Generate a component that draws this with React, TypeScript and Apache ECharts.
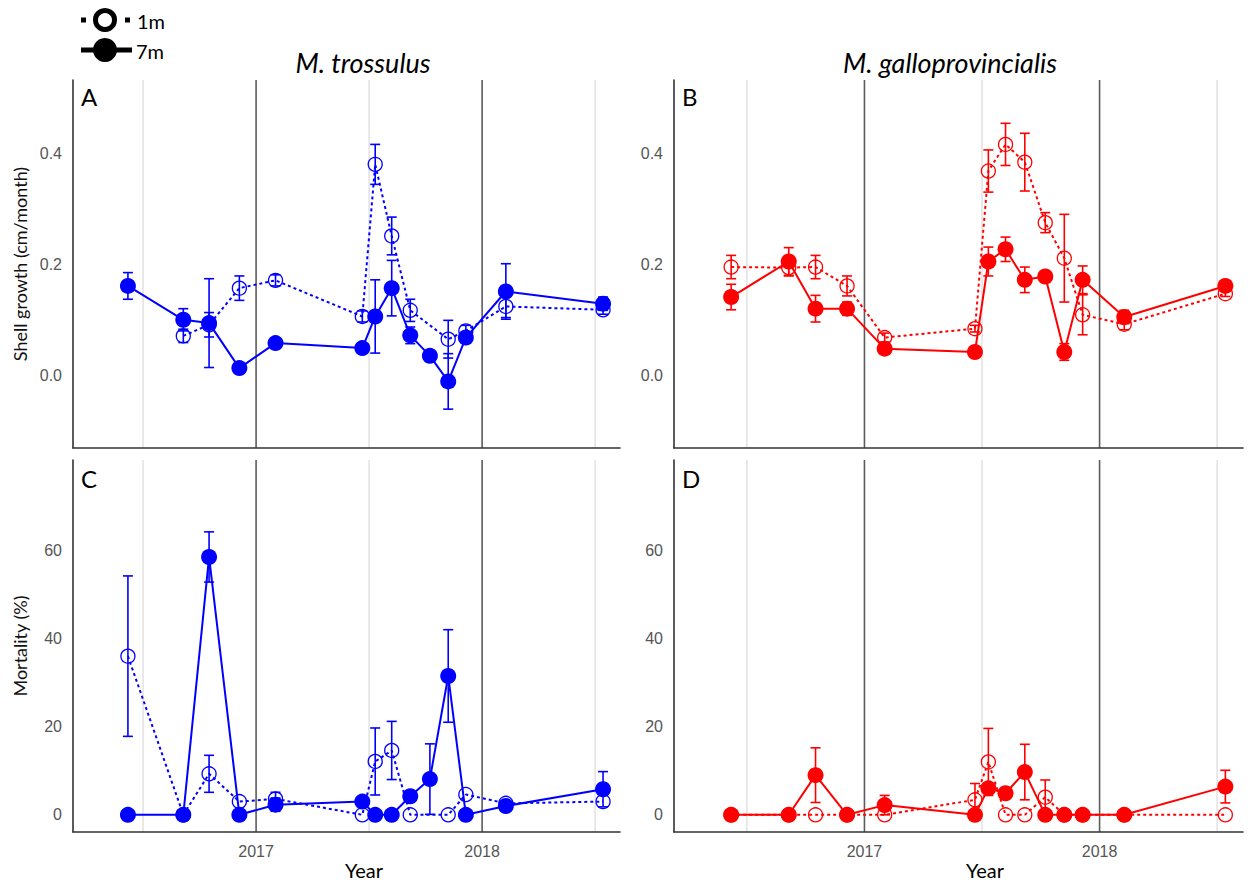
import React, { useEffect, useRef } from "react";
import * as echarts from "echarts";

// Sampling dates (decimal years)
const dates = [2016.433, 2016.678, 2016.792, 2016.926, 2017.086, 2017.47, 2017.527, 2017.6, 2017.682, 2017.769, 2017.85, 2017.928, 2018.105, 2018.535];

// Tick labels
const xTickValues = [2017, 2018];
const growthTicks = [0, 0.2, 0.4];
const mortalityTicks = [0, 20, 40, 60];

// M. trossulus shell growth (cm/month)
const trosGrowth1m = [null, 0.072, 0.092, 0.158, 0.172, 0.107, 0.381, 0.252, 0.118, null, 0.066, 0.081, 0.125, 0.119];
const trosGrowth1mSE = [null, 0.012, 0.022, 0.022, 0.01, 0.01, 0.036, 0.034, 0.02, null, 0.034, 0.01, 0.02, 0.008];
const trosGrowth7m = [0.162, 0.101, 0.095, 0.014, 0.059, 0.05, 0.107, 0.158, 0.073, 0.036, -0.01, 0.069, 0.152, 0.13];
const trosGrowth7mSE = [0.024, 0.02, 0.08, 0.004, 0.004, 0.004, 0.066, 0.05, 0.015, 0.01, 0.05, 0.01, 0.05, 0.012];

// M. galloprovincialis shell growth (cm/month)
const gallGrowth1m = [0.196, 0.195, 0.196, 0.162, 0.069, 0.085, 0.369, 0.417, 0.385, 0.276, 0.212, 0.11, 0.093, 0.148];
const gallGrowth1mSE = [0.021, 0.015, 0.021, 0.018, 0.008, 0.006, 0.038, 0.038, 0.052, 0.018, 0.079, 0.036, 0.01, 0.005];
const gallGrowth7m = [0.142, 0.206, 0.121, 0.121, 0.049, 0.043, 0.206, 0.228, 0.173, 0.179, 0.043, 0.173, 0.106, 0.162];
const gallGrowth7mSE = [0.023, 0.025, 0.024, 0.012, 0.008, 0.004, 0.026, 0.022, 0.023, 0.005, 0.015, 0.025, 0.012, 0.008];

// M. trossulus mortality (%)
const trosMort1m = [36, 0, 9.3, 3.0, 3.6, 0, 12.1, 14.6, 0, null, 0, 4.6, 2.6, 3.0];
const trosMort1mSE = [18.2, 0, 4.2, 0, 1.5, 0, 7.6, 6.6, 0, null, 0, 0, 0, 0];
const trosMort7m = [0, 0, 58.5, 0, 2.3, 3.0, 0, 0, 4.2, 8.1, 31.5, 0, 2.0, 5.8];
const trosMort7mSE = [0, 0, 5.7, 0, 1.5, 0, 0, 0, 0, 8, 10.5, 0, 0, 4];

// M. galloprovincialis mortality (%)
const gallMort1m = [0, 0, 0, 0, 0, 3.4, 12.0, 0, 0, 4.0, 0, 0, 0, 0];
const gallMort1mSE = [0, 0, 0, 0, 0, 3.7, 7.6, 0, 0, 3.9, 0, 0, 0, 0];
const gallMort7m = [0, 0, 9.0, 0, 2.2, 0, 6.0, 4.9, 9.7, 0, 0, 0, 0, 6.4];
const gallMort7mSE = [0, 0, 6.2, 0, 2.2, 0, 0, 0, 6.3, 0, 0, 0, 0, 3.7];

const BLUE = "#0000ff";
const RED = "#ff0000";
const TICK_FONT = "'Liberation Sans', Arial, sans-serif";
const TITLE_FONT = "Lato, 'Open Sans', sans-serif";

const toPairs = (vals: (number | null)[]) =>
  vals.map((v, i) => (v == null ? null : [dates[i], v])).filter((p) => p !== null);

const toErr = (vals: (number | null)[], se: (number | null)[]) =>
  vals
    .map((v, i) => (v == null || se[i] == null || se[i] === 0 ? null : [dates[i], v - (se[i] as number), v + (se[i] as number)]))
    .filter((p) => p !== null);

const gridLineData = [
  [2016.5, 0, 0],
  [2017, 0, 1],
  [2017.5, 0, 0],
  [2018, 0, 1],
  [2018.5, 0, 0],
];

function gridLineSeries(idx: number) {
  return {
    type: "custom",
    xAxisIndex: idx,
    yAxisIndex: idx,
    silent: true,
    z: 0,
    encode: { x: 0, y: 1 },
    data: gridLineData,
    renderItem: (params: any, api: any) => {
      const x = api.coord([api.value(0), 0])[0];
      const cs = params.coordSys;
      const major = api.value(2) === 1;
      return {
        type: "line",
        shape: { x1: x, y1: cs.y, x2: x, y2: cs.y + cs.height },
        style: { stroke: major ? "#5c5c5c" : "#e4e4e4", lineWidth: 1.6 },
      };
    },
  };
}

function errSeries(idx: number, data: any[], color: string) {
  return {
    type: "custom",
    xAxisIndex: idx,
    yAxisIndex: idx,
    silent: true,
    z: 2,
    encode: { x: 0, y: [1, 2] },
    data,
    renderItem: (params: any, api: any) => {
      const lo = api.coord([api.value(0), api.value(1)]);
      const hi = api.coord([api.value(0), api.value(2)]);
      const w = 5;
      const style = { stroke: color, lineWidth: 1.6 };
      return {
        type: "group",
        children: [
          { type: "line", shape: { x1: lo[0], y1: lo[1], x2: hi[0], y2: hi[1] }, style },
          { type: "line", shape: { x1: lo[0] - w, y1: lo[1], x2: lo[0] + w, y2: lo[1] }, style },
          { type: "line", shape: { x1: hi[0] - w, y1: hi[1], x2: hi[0] + w, y2: hi[1] }, style },
        ],
      };
    },
  };
}

function openLine(idx: number, data: any[], color: string) {
  return {
    type: "line",
    xAxisIndex: idx,
    yAxisIndex: idx,
    data,
    z: 3,
    symbol: "circle",
    symbolSize: 14,
    silent: true,
    itemStyle: { color: "rgba(255,255,255,0)", borderColor: color, borderWidth: 1.3 },
    lineStyle: { color, width: 2, type: [3, 3] },
  };
}

function filledLine(idx: number, data: any[], color: string) {
  return {
    type: "line",
    xAxisIndex: idx,
    yAxisIndex: idx,
    data,
    z: 4,
    symbol: "circle",
    symbolSize: 16,
    silent: true,
    itemStyle: { color, borderWidth: 0 },
    lineStyle: { color, width: 2, type: "solid" },
  };
}

const grids = [
  { left: 73, top: 80, width: 547, height: 368 },
  { left: 674, top: 80, width: 569, height: 368 },
  { left: 73, top: 460, width: 547, height: 372 },
  { left: 674, top: 460, width: 569, height: 372 },
];

const axisLine = { show: true, onZero: false, lineStyle: { color: "#333", width: 1.6 } };

function xAxis(idx: number) {
  return {
    type: "value",
    gridIndex: idx,
    min: 2016.19,
    max: 2018.61,
    axisLine,
    axisTick: { show: false },
    splitLine: { show: false },
    axisLabel: {
      show: idx >= 2,
      customValues: xTickValues,
      formatter: (v: number) => (xTickValues.includes(Math.round(v * 1000) / 1000) ? String(Math.round(v)) : ""),
      color: "#555",
      fontSize: 16,
      fontFamily: TICK_FONT,
      margin: 11,
    },
  };
}

function yAxis(idx: number) {
  const top = idx < 2;
  const ticks = top ? growthTicks : mortalityTicks;
  return {
    type: "value",
    gridIndex: idx,
    min: top ? -0.13 : -3.9,
    max: top ? 0.533 : 80.5,
    axisLine,
    axisTick: { show: false },
    splitLine: { show: false },
    axisLabel: {
      customValues: ticks,
      formatter: (v: number) => (top ? v.toFixed(1) : String(Math.round(v))),
      color: "#555",
      fontSize: 16,
      fontFamily: TICK_FONT,
      margin: 11,
    },
    name: idx === 0 ? "Shell growth (cm/month)" : idx === 2 ? "Mortality (%)" : "",
    nameLocation: "middle",
    nameGap: 44,
    nameTextStyle: { fontSize: 18, color: "#111", fontFamily: TITLE_FONT },
  };
}

const panelLetters = [
  { t: "A", x: 81, y: 96 },
  { t: "B", x: 682, y: 96 },
  { t: "C", x: 81, y: 478 },
  { t: "D", x: 682, y: 478 },
];

export default function App() {
  const ref = useRef<HTMLDivElement>(null);
  useEffect(() => {
    if (!ref.current) return;
    const chart = echarts.init(ref.current, null, { renderer: "svg" });
    const series: any[] = [];
    for (let i = 0; i < 4; i++) series.push(gridLineSeries(i));
    const panels = [
      { g1: trosGrowth1m, s1: trosGrowth1mSE, g7: trosGrowth7m, s7: trosGrowth7mSE, c: BLUE },
      { g1: gallGrowth1m, s1: gallGrowth1mSE, g7: gallGrowth7m, s7: gallGrowth7mSE, c: RED },
      { g1: trosMort1m, s1: trosMort1mSE, g7: trosMort7m, s7: trosMort7mSE, c: BLUE },
      { g1: gallMort1m, s1: gallMort1mSE, g7: gallMort7m, s7: gallMort7mSE, c: RED },
    ];
    panels.forEach((p, i) => {
      series.push(errSeries(i, toErr(p.g1, p.s1), p.c));
      series.push(errSeries(i, toErr(p.g7, p.s7), p.c));
      series.push(openLine(i, toPairs(p.g1), p.c));
      series.push(filledLine(i, toPairs(p.g7), p.c));
    });

    const graphics: any[] = [
      {
        type: "text",
        x: 363,
        y: 62,
        style: { text: "M. trossulus", font: `italic 27px ${TITLE_FONT}`, fill: "#000", align: "center", verticalAlign: "middle" },
      },
      {
        type: "text",
        x: 950,
        y: 62,
        style: { text: "M. galloprovincialis", font: `italic 27px ${TITLE_FONT}`, fill: "#000", align: "center", verticalAlign: "middle" },
      },
      { type: "text", x: 364, y: 870, style: { text: "Year", font: `20px ${TITLE_FONT}`, fill: "#000", align: "center", verticalAlign: "middle" } },
      { type: "text", x: 985, y: 870, style: { text: "Year", font: `20px ${TITLE_FONT}`, fill: "#000", align: "center", verticalAlign: "middle" } },
      ...panelLetters.map((l) => ({
        type: "text",
        x: l.x,
        y: l.y,
        style: { text: l.t, font: `24px ${TITLE_FONT}`, fill: "#000", align: "left", verticalAlign: "middle" },
      })),
      // legend
      { type: "rect", shape: { x: 81, y: 17.5, width: 5, height: 5 }, style: { fill: "#000" } },
      { type: "rect", shape: { x: 125, y: 17.5, width: 5, height: 5 }, style: { fill: "#000" } },
      { type: "circle", shape: { cx: 105, cy: 20, r: 9.5 }, style: { fill: "#fff", stroke: "#000", lineWidth: 5 } },
      { type: "text", x: 137, y: 21, style: { text: "1m", font: `20px ${TITLE_FONT}`, fill: "#000", align: "left", verticalAlign: "middle" } },
      { type: "line", shape: { x1: 81, y1: 50, x2: 132, y2: 50 }, style: { stroke: "#000", lineWidth: 5 } },
      { type: "circle", shape: { cx: 105, cy: 50, r: 12 }, style: { fill: "#000" } },
      { type: "text", x: 136, y: 51, style: { text: "7m", font: `20px ${TITLE_FONT}`, fill: "#000", align: "left", verticalAlign: "middle" } },
    ];

    chart.setOption({
      animation: false,
      backgroundColor: "#fff",
      grid: grids,
      xAxis: [0, 1, 2, 3].map(xAxis),
      yAxis: [0, 1, 2, 3].map(yAxis),
      series,
      graphic: graphics,
    });
    return () => chart.dispose();
  }, []);
  return (
    <div
      ref={ref}
      style={{ position: "fixed", left: 0, top: 0, width: 1248, height: 886, background: "#fff" }}
    />
  );
}
